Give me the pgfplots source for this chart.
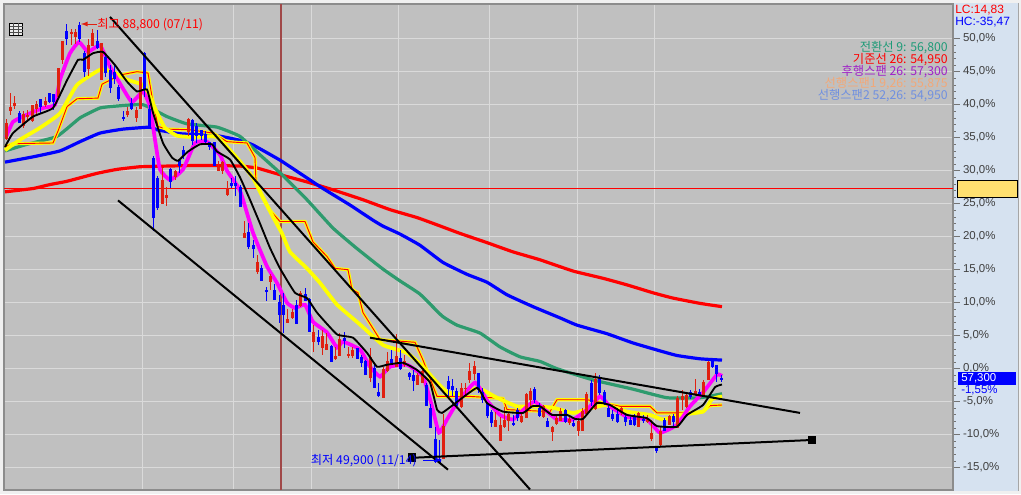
\documentclass[border=0pt]{standalone}
\usepackage{fontspec}
\usepackage{pgfplots}
\usepackage{pgfplotstable}
\pgfplotsset{compat=1.18}
\setmainfont{Liberation Sans}
\newfontfamily\kr{Noto Sans CJK KR}

\definecolor{chartbg}{HTML}{C0C0C0}
\definecolor{gridc}{HTML}{DADADA}
\definecolor{panel}{HTML}{D6E2F0}
\definecolor{candr}{HTML}{E02010}
\definecolor{candb}{HTML}{0000FF}
\definecolor{redma}{HTML}{FF0000}
\definecolor{bluema}{HTML}{0000FF}
\definecolor{greenma}{HTML}{2E9B6E}
\definecolor{yel}{HTML}{FFFF00}
\definecolor{mag}{HTML}{FF00FF}
\definecolor{boxy}{HTML}{FFE070}
\definecolor{crosscol}{HTML}{A04848}
\definecolor{lbgreen}{HTML}{1F9B78}
\definecolor{lbpurple}{HTML}{A020C8}
\definecolor{lborange}{HTML}{F2A878}
\definecolor{lbblue}{HTML}{7090E0}

% x is the pixel column of the candle, values are % from the base price
% x low high body-low body-high
\pgfplotstableread{
x lo hi bl bh
6.3 34.7 37.8 34.9 37.2
10.3 38.4 41.7 39.2 39.6
14.3 39.4 41.3 39.9 40.2
23.3 36.4 39.0 36.8 38.5
27.3 37.4 39.2 38.2 38.4
32.3 37.4 40.0 37.6 39.8
36.3 38.4 40.5 39.5 40.0
45.3 39.7 41.1 40.0 40.5
58.3 41.0 45.5 41.2 45.4
62.3 46.2 49.6 46.8 49.5
71.3 49.1 51.5 50.8 50.9
75.3 49.2 51.5 50.4 50.9
88.3 44.3 50.0 45.5 49.0
92.3 49.0 51.4 49.0 50.8
101.3 43.9 49.4 43.9 49.2
127.3 38.1 39.7 38.6 39.0
136.3 37.4 39.7 38.1 39.1
140.3 39.4 44.1 39.4 44.1
162.3 24.9 30.4 25.1 28.5
166.3 24.6 27.6 25.9 26.2
175.3 28.6 30.1 29.1 29.9
188.3 35.2 38.0 36.0 37.8
218.3 29.9 31.4 30.0 30.4
222.3 29.5 31.4 30.1 31.2
227.3 26.2 28.5 26.4 27.3
244.3 19.9 22.4 19.9 20.4
257.3 14.4 17.2 14.7 16.0
270.3 11.9 14.4 13.2 13.9
287.3 6.9 9.1 7.0 7.5
292.3 7.6 9.1 7.8 8.5
300.3 9.4 11.7 9.6 11.4
313.3 2.6 6.6 4.1 5.4
322.3 2.1 5.8 3.3 4.8
326.3 2.8 5.4 3.0 3.6
335.3 1.3 3.3 1.5 1.9
339.3 1.9 5.4 2.1 4.4
348.3 1.6 3.3 2.0 2.2
352.3 1.6 3.3 2.0 2.7
370.3 -2.0 3.1 -1.3 1.6
383.3 -4.5 0.3 -4.4 -0.2
387.3 -0.5 2.6 -0.2 1.0
396.3 0.2 5.3 0.3 1.8
404.3 0.3 2.1 0.6 1.1
417.3 -2.5 -0.7 -2.3 -1.0
422.3 -2.2 -0.2 -2.0 -0.5
443.3 -13.6 -6.8 -13.6 -8.8
461.3 -6.0 -2.2 -5.7 -3.1
465.3 -4.0 -2.2 -3.0 -3.0
469.3 -2.2 0.8 -1.6 -0.5
474.3 -1.7 1.2 -0.7 0.3
495.3 -8.9 -6.5 -8.8 -7.9
500.3 -10.8 -7.3 -10.8 -8.6
504.3 -9.0 -5.8 -8.7 -7.8
508.3 -9.5 -6.5 -7.8 -7.0
521.3 -8.2 -6.8 -8.0 -7.2
526.3 -7.5 -3.7 -7.4 -4.0
530.3 -6.0 -2.9 -4.6 -3.5
543.3 -7.4 -5.5 -7.2 -5.7
552.3 -11.0 -8.7 -9.5 -8.9
556.3 -8.5 -7.0 -8.3 -7.5
560.3 -8.0 -6.0 -7.8 -6.5
569.3 -8.5 -7.3 -8.2 -7.7
578.3 -10.2 -7.4 -9.4 -8.0
582.3 -9.5 -6.0 -9.4 -6.5
586.3 -7.0 -3.5 -6.8 -4.0
595.3 -6.2 -0.7 -6.0 -1.6
621.3 -7.0 -5.7 -6.6 -6.0
638.3 -8.8 -6.5 -8.7 -6.8
647.3 -8.3 -7.0 -8.0 -7.5
651.3 -11.0 -7.8 -10.5 -9.9
660.3 -11.7 -8.8 -11.4 -9.5
669.3 -8.5 -7.0 -8.4 -7.2
677.3 -9.0 -4.2 -8.9 -4.5
682.3 -6.3 -3.2 -4.7 -4.2
686.3 -6.0 -3.7 -5.7 -4.1
695.3 -4.2 -1.6 -3.7 -3.5
703.3 -4.2 -1.7 -4.0 -2.1
708.3 -1.7 1.2 -1.6 0.9
}\redc

\pgfplotstableread{
x lo hi bl bh
19.3 37.3 39.0 37.4 38.7
40.3 38.7 40.7 39.7 40.7
49.3 40.3 41.8 40.5 41.7
53.3 39.2 41.6 40.5 41.5
66.3 49.1 52.2 50.1 51.1
79.3 49.5 52.6 50.0 52.0
84.3 44.2 48.2 45.1 47.7
97.3 48.5 51.3 48.7 49.6
105.3 44.2 47.5 44.9 47.1
110.3 41.7 46.0 42.6 45.2
114.3 43.2 46.2 44.0 44.8
118.3 40.5 43.0 40.9 42.6
123.3 37.6 39.0 37.9 38.0
131.3 39.2 41.0 39.5 40.2
144.3 41.2 48.0 42.5 47.7
149.3 36.6 40.0 36.7 39.2
153.3 20.9 32.2 22.9 31.8
157.3 24.1 29.2 24.4 28.8
170.3 27.4 30.4 28.4 30.1
179.3 29.6 31.8 30.8 31.5
183.3 31.7 33.8 32.4 33.1
192.3 33.9 37.8 34.6 37.6
196.3 34.2 37.2 35.4 36.7
201.3 34.7 36.2 35.3 36.0
205.3 34.2 36.0 34.4 35.4
209.3 33.2 34.4 33.7 34.2
214.3 30.7 34.4 30.8 34.3
231.3 27.4 28.9 27.8 28.0
235.3 26.1 29.2 27.8 28.1
240.3 24.5 27.9 24.6 27.4
248.3 18.1 22.1 18.5 20.6
253.3 16.7 19.5 18.3 18.7
261.3 13.3 15.7 13.4 15.2
266.3 10.3 12.4 11.7 11.9
274.3 10.4 12.9 10.5 11.8
279.3 6.9 11.2 8.3 10.0
283.3 5.4 11.4 8.2 9.6
296.3 6.8 10.4 6.9 9.6
305.3 10.3 12.3 10.4 11.2
309.3 5.5 10.7 5.6 10.4
318.3 3.6 5.8 4.1 4.7
331.3 1.0 3.6 1.1 3.3
344.3 3.1 5.5 4.3 4.6
357.3 1.5 3.2 1.6 3.0
361.3 0.3 2.1 1.0 1.6
365.3 -1.0 1.3 -0.9 1.1
374.3 -3.0 0.8 -2.9 0.0
378.3 -4.3 -2.2 -4.0 -3.7
391.3 0.8 2.8 0.9 1.3
400.3 -0.2 2.8 0.0 1.5
409.3 -1.7 -0.5 -1.1 -0.7
413.3 -3.4 -0.2 -1.8 -1.0
426.3 -5.6 -2.2 -5.5 -2.5
430.3 -9.0 -5.3 -8.9 -6.1
435.3 -14.3 -8.8 -14.1 -10.7
439.3 -14.2 -10.8 -14.2 -13.8
448.3 -4.2 -1.1 -3.0 -2.0
452.3 -4.2 -1.5 -3.2 -2.7
456.3 -5.8 -3.0 -5.5 -3.5
478.3 -3.7 -0.7 -3.2 -0.7
482.3 -5.2 -3.0 -4.7 -3.7
487.3 -7.5 -5.0 -7.0 -5.3
491.3 -8.8 -6.3 -8.2 -6.7
513.3 -8.7 -7.0 -8.4 -8.3
517.3 -8.0 -6.0 -7.4 -6.3
534.3 -5.2 -2.7 -4.6 -3.2
539.3 -7.3 -5.2 -7.0 -6.0
547.3 -8.9 -7.5 -8.8 -8.1
565.3 -8.3 -6.1 -8.0 -6.4
573.3 -8.9 -7.8 -8.6 -8.3
591.3 -5.7 -1.7 -5.0 -2.3
599.3 -4.0 -0.9 -3.6 -1.5
604.3 -5.5 -3.2 -5.2 -3.6
608.3 -7.3 -5.5 -7.2 -6.0
612.3 -7.9 -6.3 -7.5 -6.9
617.3 -8.3 -6.0 -8.0 -7.0
625.3 -8.7 -6.8 -8.0 -7.4
630.3 -8.5 -7.3 -8.4 -7.8
634.3 -8.7 -6.9 -8.4 -7.2
643.3 -8.2 -7.0 -7.9 -7.7
656.3 -12.7 -11.7 -12.3 -11.9
664.3 -9.5 -7.5 -9.3 -7.9
673.3 -8.9 -6.9 -8.0 -7.3
690.3 -4.6 -3.2 -4.2 -3.6
699.3 -4.2 -3.1 -4.0 -3.6
712.3 0.1 1.4 0.3 1.3
716.3 -2.0 0.6 -0.7 0.4
721.3 -2.0 -1.0 -1.6 -1.5
}\bluec

\newcommand{\candles}[2]{%
  \addplot[draw=none, mark=none, forget plot, error bars/.cd, y dir=both, y explicit,
    error mark=none, error bar style={draw=#1, line width=.8pt}]
    table[x=x, y expr=(\thisrow{lo}+\thisrow{hi})/2, y error expr=(\thisrow{hi}-\thisrow{lo})/2] {#2};
  \addplot[draw=none, mark=none, forget plot, error bars/.cd, y dir=both, y explicit,
    error mark=none, error bar style={draw=#1, line width=2.4pt}]
    table[x=x, y expr=(\thisrow{bl}+\thisrow{bh})/2, y error expr=(\thisrow{bh}-\thisrow{bl})/2+0.1] {#2};
}
\newcommand{\lab}{\kr\fontsize{9.2}{10}\selectfont}

\begin{document}
\begin{tikzpicture}
\begin{scope}[x=.75pt, y=-.75pt, shift={(0pt,370.5pt)}]
\fill[black!6] (0,0) rectangle (1021,494);
\fill[panel] (953,3) rectangle (1018,491);
\draw[gray!70, line width=.6pt] (1018,3) -- (1018,491);
\end{scope}

\begin{axis}[
  at={(3pt,3pt)}, anchor=south west,
  scale only axis, width=711.75pt, height=364.5pt,
  xmin=4, xmax=953, ymin=-18.38, ymax=55.26,
  axis background/.style={fill=chartbg},
  axis line style={draw=black!45, line width=.8pt},
  xtick={142,233,311,398,489,577,654}, xticklabels={}, xmajorgrids,
  ytick={-15,-10,...,50},
  yticklabels={{-15,0\%},{-10,0\%},{-5,0\%},{0,0\%},{5,0\%},{10,0\%},{15,0\%},{20,0\%},{25,0\%},{30,0\%},{35,0\%},{40,0\%},{45,0\%},{50,0\%}},
  minor y tick num=4, ymajorgrids,
  grid style={draw=gridc, line width=.75pt},
  ytick pos=right, yticklabel pos=right,
  tick align=outside,
  major tick length=5pt, minor tick length=2pt,
  y tick style={draw=black!55, line width=.6pt},
  x tick style={draw=none},
  yticklabel style={font=\fontsize{8.6}{10}\selectfont, text=black!75, xshift=-1pt},
  ma/.style={smooth, tension=.25},
]
% level and crosshair sit under the averages here
\addplot[redma, line width=.9pt] coordinates {(4,27.3) (953,27.3)};
\addplot[crosscol, line width=.9pt] coordinates {(281,-18.38) (281,55.26)};
% red long average
\addplot[redma, ma, line width=2.4pt] coordinates {(5,26.8) (33,27.3) (50,27.9) (67,28.4) (97,29.6) (117,30.2) (140,30.6) (167,30.7) (200,30.8) (240,30.7) (257,30.4) (280,29.4) (307,28.3) (333,27.1) (363,25.6) (390,24.1) (417,22.9) (437,21.8) (460,20.5) (487,19.1) (513,17.7) (540,16.5) (573,14.8) (603,13.7) (627,12.7) (653,11.5) (673,10.7) (700,9.9) (722,9.4)};
% blue
\addplot[bluema, ma, line width=2.4pt] coordinates {(5,31.3) (33,32.1) (60,33) (80,34.4) (100,35.7) (123,36.3) (150,36.6) (157,36.2) (180,35.6) (217,35.3) (240,34.6) (253,33.9) (280,31.6) (303,29.3) (323,27.3) (350,24.8) (373,22.5) (383,21.6) (400,20.4) (420,18.7) (443,16.1) (467,14.3) (487,13.1) (507,11.2) (533,9.4) (560,7.7) (577,6.6) (607,5.3) (633,3.9) (660,2.7) (677,2) (700,1.5) (722,1.3)};
% green
\addplot[greenma, ma, line width=2.4pt] coordinates {(5,33) (27,34) (57,35.2) (80,38) (100,39.5) (117,39.8) (143,40) (167,38.2) (187,37.1) (217,36.6) (240,35.2) (260,32.4) (282,29.4) (307,25.6) (333,21.3) (357,18.2) (382,15.2) (400,13.3) (420,11.3) (442,8) (457,6.6) (480,5.4) (500,3.3) (520,1.8) (540,1.1) (557,0) (593,-1.7) (633,-3.1) (667,-4.4) (700,-4.4) (722,-3.8)};
% leading span, yellow with a red core
\addplot[yel, line width=2.4pt] coordinates {(5,33.6) (13,34.1) (53,34.2) (58,36) (67,39.7) (77,40.9) (98,41) (102,43.1) (120,44.5) (137,45) (148,44.8) (152,41.2) (158,36.7) (167,36.3) (190,36.2) (213,35.7) (227,34.4) (247,34.2) (255,32) (256,28.2) (263,26) (270,24) (280,22.3) (305,22.3) (313,19.2) (327,17) (335,15.2) (348,15) (352,12) (358,11.5) (363,8.5) (380,4.4) (415,4) (423,1.3) (437,-4.2) (470,-4.2) (503,-4.5) (507,-6.2) (550,-6.5) (557,-4.7) (587,-4.7) (620,-5.7) (650,-5.7) (657,-6.7) (687,-6.7) (703,-6.5) (710,-5.6) (722,-5.5)};
\addplot[redma, line width=.7pt] coordinates {(5,33.6) (13,34.1) (53,34.2) (58,36) (67,39.7) (77,40.9) (98,41) (102,43.1) (120,44.5) (137,45) (148,44.8) (152,41.2) (158,36.7) (167,36.3) (190,36.2) (213,35.7) (227,34.4) (247,34.2) (255,32) (256,28.2) (263,26) (270,24) (280,22.3) (305,22.3) (313,19.2) (327,17) (335,15.2) (348,15) (352,12) (358,11.5) (363,8.5) (380,4.4) (415,4) (423,1.3) (437,-4.2) (470,-4.2) (503,-4.5) (507,-6.2) (550,-6.5) (557,-4.7) (587,-4.7) (620,-5.7) (650,-5.7) (657,-6.7) (687,-6.7) (703,-6.5) (710,-5.6) (722,-5.5)};
% yellow
\addplot[yel, ma, line width=2.8pt] coordinates {(5,33.1) (20,34.7) (40,36.5) (60,38.7) (77,43) (100,45.3) (113,45) (127,43.8) (143,43) (150,41.2) (157,38.8) (165,36.5) (177,35.3) (193,35.1) (217,35.1) (240,31.4) (253,28.9) (265,25.3) (273,23) (282,20.5) (290,17.7) (307,15.2) (320,13) (337,9.7) (360,6.7) (383,3.6) (407,2.4) (423,0.3) (437,-2.1) (448,-3.6) (463,-3.9) (478,-2.9) (497,-4.4) (517,-5.7) (533,-5.7) (553,-5.9) (573,-6.7) (593,-5.9) (607,-5.5) (627,-6.5) (650,-7) (663,-7.7) (680,-7) (703,-6.5) (712,-4.6) (722,-4.2)};
% magenta
\addplot[mag, ma, line width=2.8pt] coordinates {(6,35.1) (13,37.4) (27,38.5) (43,39.5) (55,40) (60,43.8) (70,47.8) (79,49.5) (88,48) (100,49) (110,45.8) (122,42.7) (132,40.4) (143,42) (150,39.7) (155,34.7) (160,30.2) (170,28.6) (183,30.2) (195,34.2) (207,34.4) (220,32.4) (227,30) (240,27) (253,20.6) (267,15.5) (277,13) (287,10) (295,9.2) (305,9.7) (313,7.1) (327,5.5) (337,3.2) (343,4.1) (360,2.9) (370,0.3) (380,-1.2) (390,0.3) (407,0.6) (423,-1.2) (432,-5.7) (439,-9.7) (447,-7.7) (457,-5.2) (475,-2.1) (488,-5) (500,-7) (513,-7.7) (527,-5.7) (535,-5) (547,-6.5) (557,-7.7) (573,-7.7) (587,-6.2) (600,-4.2) (610,-5.7) (627,-7.3) (647,-7.7) (660,-9.7) (677,-8.5) (690,-5.7) (703,-3.6) (717,-0.9) (722,-1.1)};
% candles
\candles{candr}{\redc}
\candles{candb}{\bluec}
% black average
\addplot[black, ma, line width=1.4pt] coordinates {(5,33.6) (13,35.7) (33,38.2) (53,39.5) (67,43.7) (78,46.8) (83,46.8) (93,47.8) (103,48) (115,46) (127,43.5) (137,42) (147,42.3) (153,38.8) (163,34.2) (172,32) (178,31.5) (188,32.9) (200,34) (212,34) (217,32.9) (230,31.7) (240,29) (250,25.6) (260,22) (270,18.3) (280,15.2) (295,11.5) (307,10.7) (317,8.5) (337,5.2) (353,4.7) (367,2.4) (377,0.3) (387,0.6) (403,0.9) (417,-0.2) (430,-2.1) (437,-6.2) (442,-6.7) (453,-5.5) (477,-2.9) (487,-5.2) (503,-6.5) (523,-6.7) (532,-5.7) (540,-5.7) (552,-7) (567,-7) (575,-7.6) (583,-7.6) (597,-5.2) (610,-5.5) (627,-7) (647,-7.5) (657,-8.7) (677,-8.8) (687,-7) (703,-5.5) (715,-2.8) (722,-2.4)};
% trend lines
\addplot[black, line width=1.5pt] coordinates {(110,53.3) (530,-18.3)};
\addplot[black, line width=1.5pt] coordinates {(118,25.5) (448,-15.3)};
\addplot[black, line width=1.5pt] coordinates {(370,4.7) (800,-6.7)};
\addplot[black, line width=1.5pt, mark=square*, mark size=2.5pt, mark options={fill=black}] coordinates {(412,-13.5) (812,-10.8)};
\end{axis}

\begin{scope}[x=.75pt, y=-.75pt, shift={(0pt,370.5pt)}]
% icon
\draw[black, fill=white!85!gray, line width=.7pt] (9.5,23) rectangle (22.5,35.5);
\draw[black!70, line width=.4pt] (9.5,26) -- (22.5,26) (9.5,29) -- (22.5,29) (9.5,32) -- (22.5,32) (13.5,23) -- (13.5,35.5) (18,23) -- (18,35.5);

% extreme labels
\draw[-latex, candr, line width=.7pt] (97,24) -- (81,24);
\node[anchor=west, inner sep=0, text=red, font=\lab] at (97,24.5) {최고 88,800 (07/11)};
\node[anchor=east, inner sep=0, text=candb, font=\lab] at (417,460.5) {최저 49,900 (11/14)};
\draw[-latex, candb, line width=.7pt] (423,460) -- (442,460);

% indicator legend
\node[anchor=east, inner sep=0, text=lbgreen, font=\lab] at (948,48) {전환선 9: 56,800};
\node[anchor=east, inner sep=0, text=red, font=\lab] at (948,60) {기준선 26: 54,950};
\node[anchor=east, inner sep=0, text=lbpurple, font=\lab] at (948,72) {후행스팬 26: 57,300};
\node[anchor=east, inner sep=0, text=lborange, font=\lab] at (948,84) {선행스팬1 9,26: 55,875};
\node[anchor=east, inner sep=0, text=lbblue, font=\lab] at (948,96) {선행스팬2 52,26: 54,950};

% right panel
\node[anchor=west, inner sep=0, text=red, font=\fontsize{9}{10}\selectfont] at (955,10) {LC:14,83};
\node[anchor=west, inner sep=0, text=candb, font=\fontsize{9}{10}\selectfont] at (955,22) {HC:-35,47};
\draw[black, fill=boxy, line width=.6pt] (957,180) rectangle (1017,197);
\fill[candb] (958,372) rectangle (1016,385);
\node[anchor=west, inner sep=0, text=white, font=\fontsize{8.6}{10}\selectfont] at (961,378.5) {57,300};
\node[anchor=west, inner sep=0, text=candb, font=\fontsize{8.6}{10}\selectfont] at (961,390.5) {-1,55\%};
\end{scope}
\pgfresetboundingbox
\path[use as bounding box] (0,0) rectangle (765.75pt,370.5pt);
\end{tikzpicture}
\end{document}
